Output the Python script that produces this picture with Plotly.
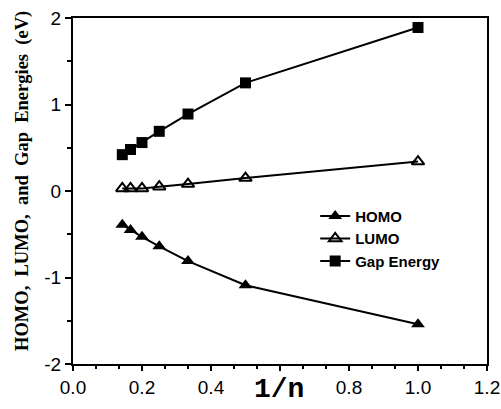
import plotly.graph_objects as go

inv_n = [1/7, 1/6, 1/5, 1/4, 1/3, 1/2, 1.0]
homo = [-0.39, -0.45, -0.53, -0.64, -0.81, -1.09, -1.54]
lumo = [0.03, 0.03, 0.03, 0.05, 0.08, 0.15, 0.34]
gap = [0.42, 0.48, 0.56, 0.69, 0.89, 1.25, 1.89]

x_tickvals = [0.0, 0.2, 0.4, 0.6, 0.8, 1.0, 1.2]
x_ticktext = ["0.0", "0.2", "0.4", "", "0.8", "1.0", "1.2"]
y_tickvals = [-2, -1, 0, 1, 2]
y_ticktext = ["-2", "-1", "0", "1", "2"]

series = [
    ("HOMO", homo, "triangle-up", 12),
    ("LUMO", lumo, "triangle-up-open", 11),
    ("Gap Energy", gap, "square", 11),
]

fig = go.Figure()
for name, vals, sym, sz in series:
    fig.add_trace(go.Scatter(
        x=inv_n, y=vals, name=name, mode="lines+markers",
        line=dict(color="black", width=2),
        marker=dict(symbol=sym, size=sz, color="black",
                    line=dict(color="black", width=2 if "open" in sym else 0)),
    ))

fig.update_layout(
    width=501, height=409,
    margin=dict(l=73, r=14, t=18, b=45, autoexpand=False),
    paper_bgcolor="white", plot_bgcolor="white",
    showlegend=True,
    legend=dict(
        x=0.585, y=0.475, xanchor="left", yanchor="top",
        font=dict(family="Liberation Sans, Arial", size=15, color="black", weight="bold"),
        bgcolor="rgba(0,0,0,0)", tracegroupgap=0, itemwidth=30,
    ),
    font=dict(family="Liberation Sans, Arial", color="black"),
    annotations=[
        dict(text="1/n", xref="paper", yref="paper", x=(279 - 73) / 414, y=-(389 - 364) / 346,
             xanchor="center", yanchor="middle", showarrow=False,
             font=dict(family="Liberation Mono, Courier New", size=28, weight="bold", color="black")),
        dict(text="HOMO,  LUMO,  and  Gap  Energies  (eV)", xref="paper", yref="paper",
             x=-(73 - 22) / 414, y=1 - (181 - 18) / 346, textangle=-90,
             xanchor="center", yanchor="middle", showarrow=False,
             font=dict(family="Liberation Serif, Times New Roman", size=18.5, weight="bold", color="black")),
    ],
)
fig.update_xaxes(
    range=[0, 1.2], tickvals=x_tickvals, ticktext=x_ticktext, automargin=False,
    showgrid=False, zeroline=False,
    showline=True, linecolor="black", linewidth=2, mirror=True,
    ticks="outside", ticklen=5, tickwidth=2, tickcolor="black",
    minor=dict(dtick=0.2/3, tick0=0, ticks="outside", ticklen=3, tickwidth=2, tickcolor="black"),
    tickfont=dict(size=19, family="Liberation Sans, Arial"),
)
fig.update_yaxes(
    range=[-2, 2], tickvals=y_tickvals, ticktext=y_ticktext, automargin=False,
    showgrid=False, zeroline=False,
    showline=True, linecolor="black", linewidth=2, mirror=True,
    ticks="outside", ticklen=6, tickwidth=2, tickcolor="black",
    minor=dict(dtick=0.5, ticks="outside", ticklen=4, tickwidth=2, tickcolor="black"),
    tickfont=dict(size=19, family="Liberation Sans, Arial"),
)

fig.write_html("out.html", config={"displayModeBar": False},
               post_script="document.body.style.margin='0';document.body.style.overflow='hidden';")
